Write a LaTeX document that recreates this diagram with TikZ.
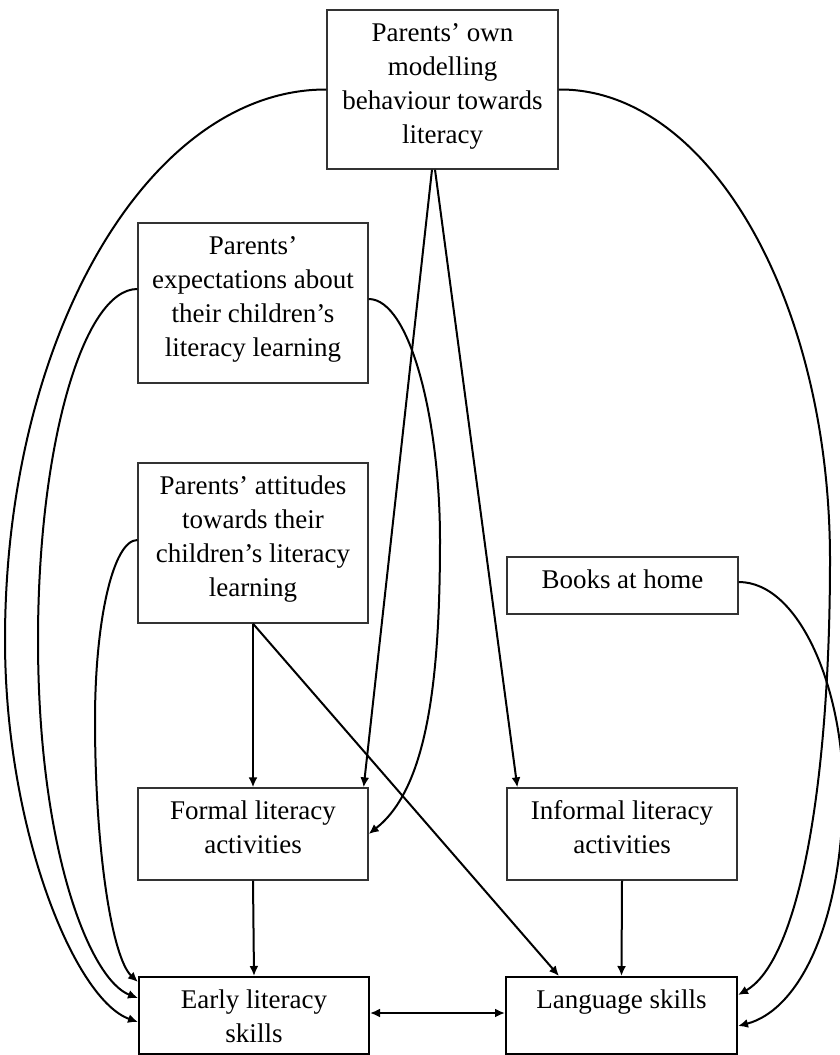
\documentclass[tikz,border=0pt]{standalone}
\usepackage{fontspec}
\setmainfont{Liberation Serif}
\usetikzlibrary{arrows.meta}

% box text: fixed width and height, lines centred, first baseline near the top
\newcommand\boxtxt[3]{\parbox[c][#2][t]{#1}{\centering\rule{0pt}{31pt}#3}}

\begin{document}
\begin{tikzpicture}[
  x={(1pt,0)}, y={(0,-1pt)},
  >={Latex[length=10pt,width=9pt]},
  box/.style={draw=black!80, line width=1.3pt, inner sep=0pt,
              font=\fontsize{27}{34}\selectfont},
  outbox/.style={box, draw=black, line width=2pt},
  link/.style={line width=2pt, ->},
  twoway/.style={line width=2pt, <->}
]
\useasboundingbox (0,0) rectangle (840,1055);
\clip (0,0) rectangle (840,1055);

% influences
\node[box] (own) at (442.5,89.5)
  {\boxtxt{231pt}{159pt}{Parents’ own\\modelling\\behaviour towards\\literacy}};
\node[box] (exp) at (253,303)
  {\boxtxt{230pt}{160pt}{Parents’\\expectations about\\their children’s\\literacy learning}};
\node[box] (att) at (253,543)
  {\boxtxt{230pt}{160pt}{Parents’ attitudes\\towards their\\children’s literacy\\learning}};
\node[box] (books) at (622.5,585.5)
  {\boxtxt{231pt}{57pt}{Books at home}};

% activities
\node[box] (formal) at (253,834)
  {\boxtxt{230pt}{92pt}{Formal literacy\\activities}};
\node[box] (informal) at (622,834)
  {\boxtxt{230pt}{92pt}{Informal literacy\\activities}};

% outcomes
\node[outbox] (early) at (254,1015.5)
  {\boxtxt{230pt}{77pt}{Early literacy\\skills}};
\node[outbox] (lang) at (621.5,1015.5)
  {\boxtxt{231pt}{77pt}{Language skills}};

% straight links
\draw[link] ([xshift=-10.5pt]own.south) -- ([xshift=-5pt]formal.north east);
\draw[link] ([xshift=-7.5pt]own.south) -- ([xshift=11pt]informal.north west);
\draw[link] (att.south) -- (formal.north);
\draw[link] (att.south) -- ([xshift=54pt]lang.north west);
\draw[link] (formal.south) -- (early.north);
\draw[link] (informal.south) -- (lang.north);
\draw[twoway] ([yshift=2.5pt]early.east) -- ([yshift=2.5pt]lang.west);

% curved links on the left
\draw[link] (own.west) .. controls (149,89) and (5,336) .. (5,640)
  .. controls (5,830) and (75,1000) .. ([yshift=-6.5pt]early.west);
\draw[link] ([yshift=14pt]exp.west) .. controls (83,289) and (38,446) .. (38,640)
  .. controls (38,850) and (90,980) .. ([yshift=17.5pt]early.west);
\draw[link] ([yshift=3pt]att.west) .. controls (113,540) and (95,621) .. (95,720)
  .. controls (95,850) and (112,958) .. ([yshift=33.5pt]early.west);

% curved links on the right
\draw[link] ([yshift=4pt]exp.east) .. controls (410,299) and (440,420) .. (440,540)
  .. controls (440,690) and (425,790) .. (formal.east);
\draw[link] (own.east) .. controls (708,88) and (830,299) .. (830,560)
  .. controls (830,780) and (800,960) .. ([yshift=20.5pt]lang.east);
\draw[link] ([yshift=3.5pt]books.east) .. controls (800,582) and (843,690) .. (843,790)
  .. controls (843,920) and (800,1010) .. ([yshift=-10.5pt]lang.east);
\end{tikzpicture}
\end{document}
